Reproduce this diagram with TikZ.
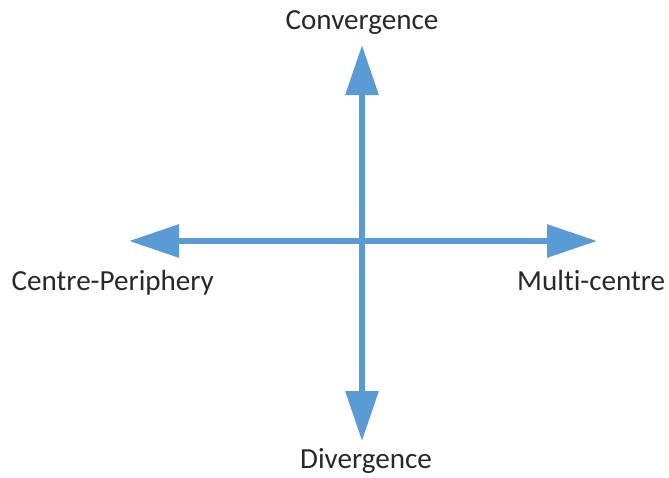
\documentclass[tikz,border=0pt]{standalone}
\usepackage{fontspec}
\setmainfont{Carlito}[Ligatures=NoCommon]
\usetikzlibrary{positioning}
\usetikzlibrary{arrows.meta}
\definecolor{axisblue}{RGB}{91,155,213}
\definecolor{lbltext}{RGB}{40,40,40}
\tikzset{
    axisarrow/.style = {line width=4.3pt,draw=axisblue,{Triangle[length=1.25cm,width=0.8cm]}-{Triangle[length=1.25cm,width=0.8cm]}},
    lbl/.style = {anchor=base,inner sep=0pt,text=lbltext,font=\fontsize{20.7}{23}\selectfont}
}

\begin{document}
\begin{tikzpicture}[scale=1.00,transform shape]
\useasboundingbox (0,0) rectangle (16.725,-11.925);
\coordinate (c) at (9.05,-6.025);
\coordinate (n) at (9.05,-1.125);
\coordinate (s) at (9.05,-11.025);
\coordinate (w) at (3.225,-6.025);
\coordinate (e) at (14.925,-6.025);
%
\node[lbl] at (9.05,-0.74) (conv) {Convergence};
\node[lbl] at (9.15,-11.72) (div) {Divergence};
\node[lbl] at (2.82,-7.25) (cp) {Centre-Periphery};
\node[lbl] at (14.78,-7.25) (mc) {Multi-centre};
%
\draw[axisarrow] (w) -- (e);
\draw[axisarrow] (s) -- (n);
\end{tikzpicture}
\end{document}
